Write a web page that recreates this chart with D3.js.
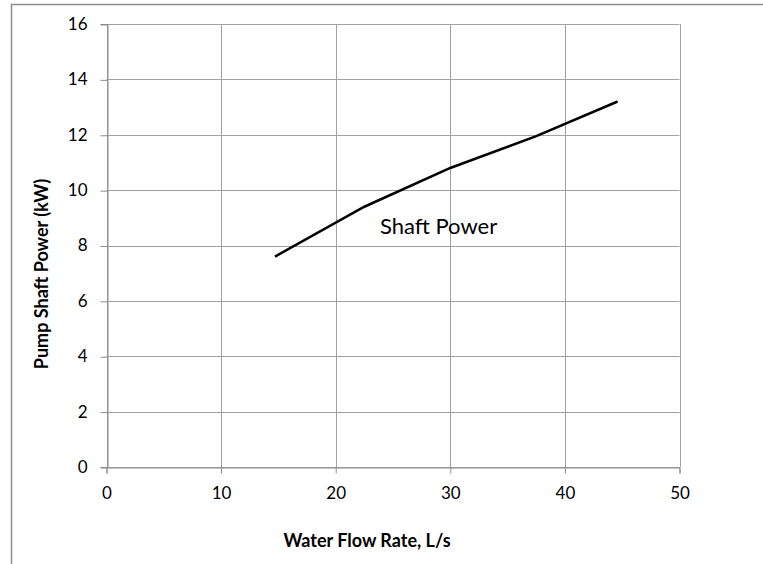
<!DOCTYPE html>
<html>
<head>
<meta charset="utf-8">
<script src="https://cdn.jsdelivr.net/npm/d3@7"></script>
<style>
  html, body { margin: 0; padding: 0; background: #fff; }
  svg { display: block; }
  text { font-family: Lato, "Open Sans", sans-serif; fill: #000; }
</style>
</head>
<body>
<svg id="chart" width="763" height="564"></svg>
<script>
// Pump shaft power against water flow rate
const flowRate = [14.7, 22.5, 30, 37.5, 44.6];
const shaftPower = [7.6, 9.4, 10.8, 11.95, 13.2];
const xTicks = [0, 10, 20, 30, 40, 50];
const yTicks = [0, 2, 4, 6, 8, 10, 12, 14, 16];
const seriesLabel = "Shaft Power";
const xTitle = "Water Flow Rate, L/s";
const yTitle = "Pump Shaft Power (kW)";

const svg = d3.select("#chart");
const plot = { left: 106.5, right: 679.5, top: 24, bottom: 467 };

const x = d3.scaleLinear().domain([0, 50]).range([plot.left, plot.right]);
const y = d3.scaleLinear().domain([0, 16]).range([plot.bottom, plot.top]);

// outer chart border
svg.append("rect")
  .attr("x", 11.5).attr("y", 4.5)
  .attr("width", 800).attr("height", 600)
  .attr("fill", "none").attr("stroke", "#8c8c8c").attr("stroke-width", 1.5);

// gridlines
const grid = svg.append("g").attr("stroke", "#a0a0a0").attr("stroke-width", 1);
grid.selectAll("line.h").data(yTicks).join("line")
  .attr("x1", plot.left).attr("x2", plot.right)
  .attr("y1", d => Math.round(y(d)) + 0.5).attr("y2", d => Math.round(y(d)) + 0.5);
grid.selectAll("line.v").data(xTicks).join("line")
  .attr("y1", plot.top).attr("y2", plot.bottom)
  .attr("x1", d => Math.round(x(d)) + 0.5).attr("x2", d => Math.round(x(d)) + 0.5);

// axes
const yAxis = d3.axisLeft(y).tickValues(yTicks).tickSize(7).tickPadding(13);
const xAxis = d3.axisBottom(x).tickValues(xTicks).tickSize(6).tickPadding(13);

const gy = svg.append("g").attr("transform", `translate(${Math.round(plot.left) + 0.5},0)`).call(yAxis);
const gx = svg.append("g").attr("transform", `translate(0,${Math.round(plot.bottom) + 0.5})`).call(xAxis);
[gx, gy].forEach(g => {
  g.select(".domain").attr("stroke", "#8c8c8c");
  g.selectAll(".tick line").attr("stroke", "#8c8c8c");
  g.selectAll(".tick text").style("font-size", "17px").attr("fill", "#000");
});
gy.selectAll(".tick line").attr("transform", "translate(0,0.5)");

// data line
const line = d3.line().x((d, i) => x(flowRate[i])).y(d => y(d));
svg.append("path")
  .datum(shaftPower)
  .attr("d", line)
  .attr("fill", "none")
  .attr("stroke", "#000")
  .attr("stroke-width", 2.5);

// series label
svg.append("text")
  .attr("x", 380).attr("y", 234)
  .style("font-size", "22px")
  .text(seriesLabel);

// axis titles
svg.append("text")
  .attr("x", 367).attr("y", 547)
  .attr("text-anchor", "middle")
  .style("font-size", "18px").style("font-weight", "bold")
  .text(xTitle);

svg.append("text")
  .attr("transform", "translate(48,274) rotate(-90)")
  .attr("text-anchor", "middle")
  .style("font-size", "18px").style("font-weight", "bold")
  .text(yTitle);
</script>
</body>
</html>
